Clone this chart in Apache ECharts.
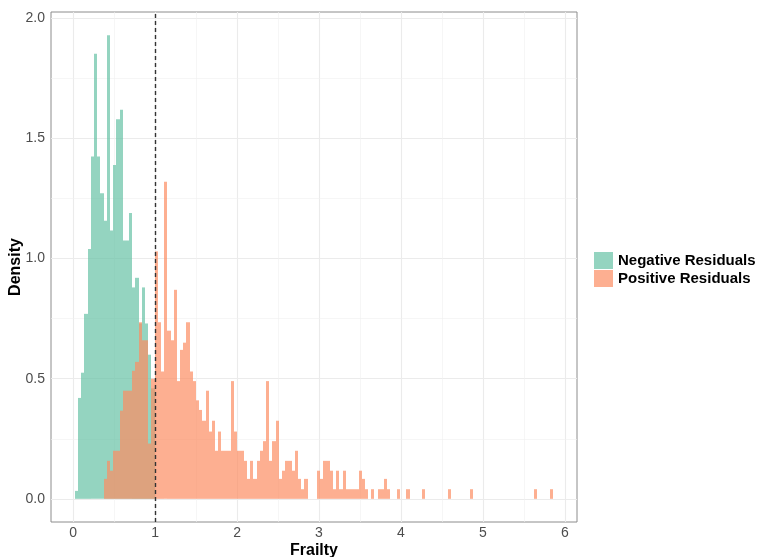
<!DOCTYPE html>
<html><head><meta charset="utf-8">
<script src="https://cdn.jsdelivr.net/npm/echarts@6/dist/echarts.min.js"></script>
<style>html,body{margin:0;padding:0;background:#fff}#c{width:758px;height:557px}</style>
</head><body><div id="c"></div>
<script>
// Histogram bins (150 bins, common width)
const binWidth = 0.0389;
const firstBinCenter = 0.040;

// Negative residuals: densities of bins 0..24
const negDensity = [0.033,0.42,0.525,0.77,1.04,1.425,1.853,1.425,1.272,1.158,
  1.93,1.117,1.39,1.58,1.62,1.075,1.075,1.19,0.88,0.92,
  0.73,0.88,0.73,0.6,0.46];

// Positive residuals: densities of bins 9..149
const posFirstBin = 9;
const posDensity = [
  0.083,0.158,0.117,0.2,0.2,0.367,0.45,0.45,0.45,0.533,
  0.57,0.735,0.66,0.66,0.23,0.5,1.03,0.735,0.53,1.32,
  0.7,0.66,0.87,0.49,0.62,0.65,0.735,0.53,0.49,0.41,
  0.37,0.325,0.45,0.28,0.325,0.2,0.28,0.2,0.2,0.2,
  0.49,0.28,0.2,0.2,0.158,0.083,0.158,0.083,0.158,0.2,
  0.24,0.49,0.158,0.24,0.325,0.083,0.117,0.158,0.158,0.117,
  0.2,0.083,0.04,0.083,0,0,0,0.117,0.083,0.158,
  0.158,0.117,0.04,0.117,0.04,0.117,0.04,0.04,0.04,0.04,
  0.117,0.083,0.04,0,0.04,0,0.04,0.04,0.083,0.04,
  0,0,0.04,0,0,0.04,0,0,0,0,
  0.04,0,0,0,0,0,0,0,0.04,0,
  0,0,0,0,0,0.04,0,0,0,0,
  0,0,0,0,0,0,0,0,0,0,
  0,0,0,0,0,0.04,0,0,0,0,
  0.04];

const seriesNames = ['Negative Residuals','Positive Residuals'];
const seriesColors = ['#66C2A5','#FC8D62'];
const xTicks = [0,1,2,3,4,5,6];
const xMinor = [0.5,1.5,2.5,3.5,4.5,5.5];
const yTicks = [0,0.5,1,1.5,2];
const yMinor = [0.25,0.75,1.25,1.75];
const refLine = 1;

const FONT = "'Liberation Sans', Arial, sans-serif";

function toData(dens, startBin) {
  return dens.map((d, i) => [firstBinCenter + (startBin + i) * binWidth, d]);
}
function makeRender(color) {
  return function (params, api) {
    const c = api.value(0), h = api.value(1);
    if (!h) return null;
    const p0 = api.coord([c - binWidth / 2, h]);
    const p1 = api.coord([c + binWidth / 2, 0]);
    const x0 = Math.round(p0[0]), x1 = Math.round(p1[0]);
    return {type: 'rect', shape: {x: x0, y: p0[1], width: x1 - x0, height: p1[1] - p0[1]},
      style: {fill: color, opacity: 0.7}};
  };
}

const gridLines = [];
xTicks.forEach(v => gridLines.push({xAxis: v, lineStyle: {color: '#EBEBEB', width: 1.1, type: 'solid'}}));
yTicks.forEach(v => gridLines.push({yAxis: v, lineStyle: {color: '#EBEBEB', width: 1.1, type: 'solid'}}));
xMinor.forEach(v => gridLines.push({xAxis: v, lineStyle: {color: '#F0F0F0', width: 0.6, type: 'solid'}}));
yMinor.forEach(v => gridLines.push({yAxis: v, lineStyle: {color: '#F0F0F0', width: 0.6, type: 'solid'}}));

const chart = echarts.init(document.getElementById('c'), null, {renderer: 'canvas'});
chart.setOption({
  animation: false,
  backgroundColor: '#fff',
  grid: {left: 51, top: 12, width: 526, height: 510, containLabel: false, outerBoundsMode: 'none',
    show: true, borderColor: '#8c8c8c', borderWidth: 1, backgroundColor: '#fff'},
  legend: {
    orient: 'vertical', left: 589, top: 247, itemWidth: 19, itemHeight: 17, itemGap: 1, icon: 'rect',
    textStyle: {fontSize: 15, fontWeight: 'bold', color: '#000', fontFamily: FONT},
    data: seriesNames
  },
  xAxis: {
    type: 'value', min: -0.271, max: 6.149,
    axisLine: {show: false}, splitLine: {show: false},
    axisTick: {show: true, customValues: xTicks, length: 4, lineStyle: {color: '#333'}},
    axisLabel: {customValues: xTicks, margin: 4, fontSize: 14, color: '#4d4d4d', fontFamily: FONT},
    name: 'Frailty', nameLocation: 'middle', nameGap: 21, nameMoveOverlap: false,
    nameTextStyle: {fontSize: 16, fontWeight: 'bold', color: '#000', fontFamily: FONT}
  },
  yAxis: {
    type: 'value', min: -0.0965, max: 2.0265,
    axisLine: {show: false}, splitLine: {show: false},
    axisTick: {show: true, customValues: yTicks, length: 4, lineStyle: {color: '#333'}},
    axisLabel: {customValues: yTicks, margin: 6, fontSize: 14, color: '#4d4d4d', fontFamily: FONT,
      formatter: v => Number(v).toFixed(1)},
    name: 'Density', nameLocation: 'middle', nameGap: 27, nameMoveOverlap: false,
    nameTextStyle: {fontSize: 16, fontWeight: 'bold', color: '#000', fontFamily: FONT}
  },
  series: [
    {type: 'line', data: [], silent: true, z: 1,
      markLine: {silent: true, z: 1, symbol: ['none', 'none'], label: {show: false}, data: gridLines}},
    {name: seriesNames[0], type: 'custom', z: 2, itemStyle: {color: seriesColors[0], opacity: 0.7},
      renderItem: makeRender(seriesColors[0]), encode: {x: 0, y: 1}, data: toData(negDensity, 0)},
    {name: seriesNames[1], type: 'custom', z: 3, itemStyle: {color: seriesColors[1], opacity: 0.7},
      renderItem: makeRender(seriesColors[1]), encode: {x: 0, y: 1}, data: toData(posDensity, posFirstBin)},
    {type: 'line', data: [], silent: true, z: 10,
      markLine: {silent: true, z: 10, symbol: ['none', 'none'], label: {show: false},
        lineStyle: {color: '#333', width: 1.4, type: [4, 3]}, data: [{xAxis: refLine}]}}
  ]
});
</script>
</body></html>
